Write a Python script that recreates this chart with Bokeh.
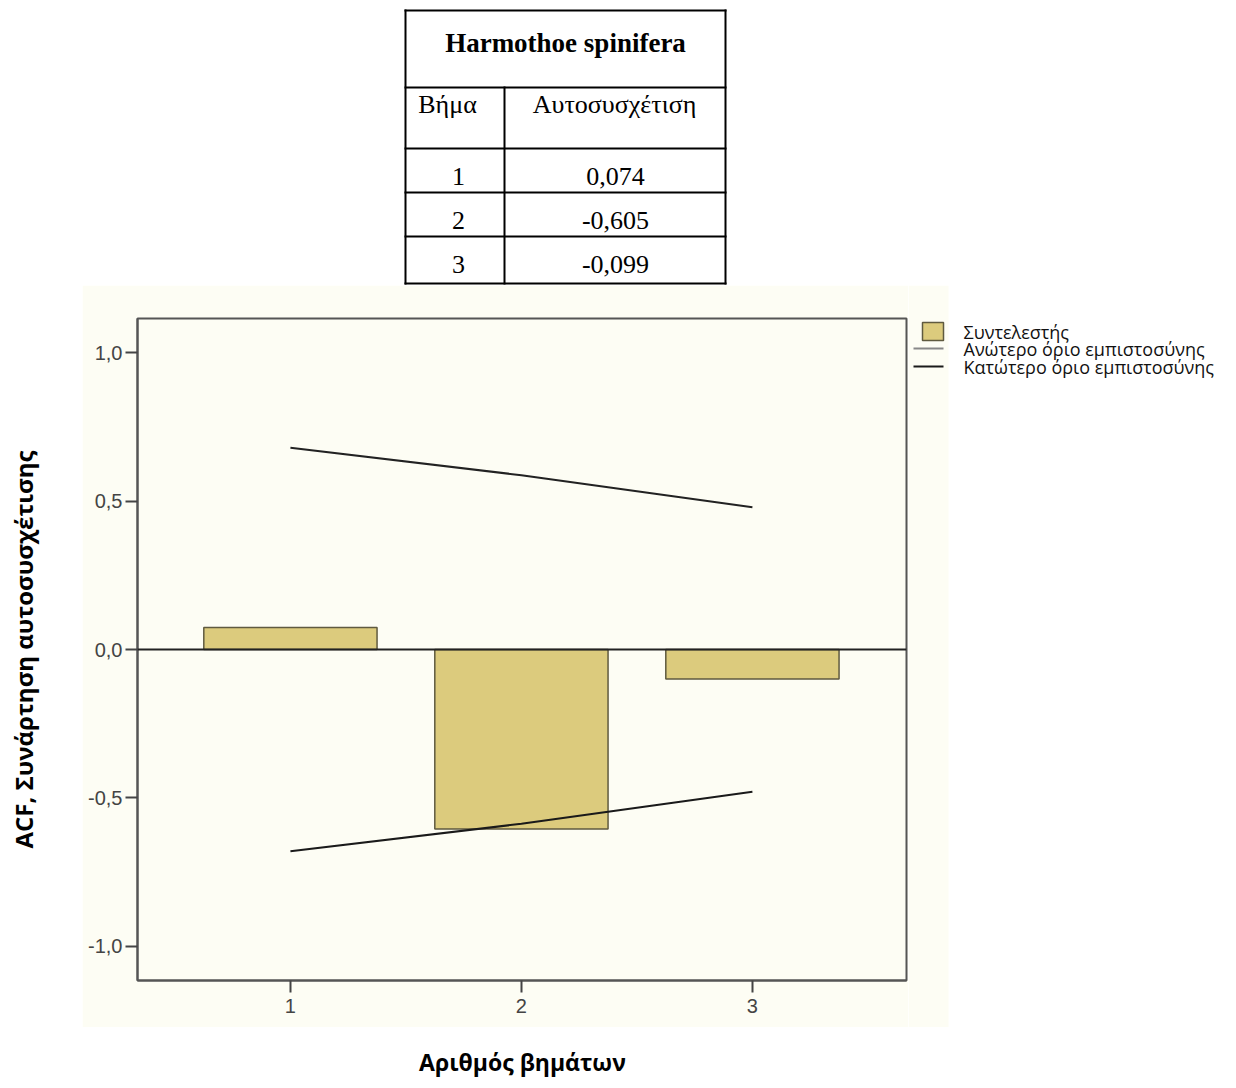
import math
from bokeh.plotting import figure
from bokeh.models import Range1d, FixedTicker, Span
from bokeh.layouts import column, row
from bokeh.embed import file_html
from bokeh.resources import INLINE
from bokeh.core.properties import value

# ---------------- data ----------------
species = "Harmothoe spinifera"
col_step = "Βήμα"
col_acf = "Αυτοσυσχέτιση"
lags = [1, 2, 3]
acf = [0.074, -0.605, -0.099]
upper_ci = [0.680, 0.587, 0.479]
lower_ci = [-0.680, -0.587, -0.479]
y_ticks = [-1.0, -0.5, 0.0, 0.5, 1.0]
y_tick_labels = ["-1,0", "-0,5", "0,0", "0,5", "1,0"]
x_tick_labels = ["1", "2", "3"]
legend_labels = ["Συντελεστής", "Ανώτερο όριο εμπιστοσύνης", "Κατώτερο όριο εμπιστοσύνης"]
x_label = "Αριθμός βημάτων"
y_label = "ACF, Συνάρτηση αυτοσυσχέτισης"

CREAM = "#fdfdf4"
BAR = "#dccb7d"
BAR_EDGE = "#5f5a3f"
UPPER_COLOR = "#888888"
LOWER_COLOR = "#1a1a1a"

W = 1232
TOP_H = 285      # table band
MID_H = 742      # chart band (cream image)
BOT_H = 57       # x-label band
LEFT_W = 82
CHART_W = 826
RIGHT_W = W - LEFT_W - CHART_W


def blank(width, height, x0, x1, y0, y1, bg="white"):
    f = figure(width=width, height=height, x_range=Range1d(x0, x1), y_range=Range1d(y1, y0),
               output_backend="svg", toolbar_location=None,
               x_axis_location=None, y_axis_location=None, min_border=0,
               outline_line_color=None, background_fill_color=bg, border_fill_color=bg)
    f.grid.visible = False
    f.frame_align = False
    return f


# ---------------- table ----------------
t = blank(W, TOP_H, 0, W, 0, TOP_H)
tx0, tx1, txm = 405, 725, 504
row_top = 148
row_h = 44
hy = [10, 87, row_top] + [row_top + row_h * (i + 1) for i in range(len(lags) - 1)] + [283]
t.segment(x0=[tx0] * len(hy), x1=[tx1] * len(hy), y0=hy, y1=hy,
          line_color="black", line_width=2, line_cap="square")
t.segment(x0=[tx0, tx1, txm], x1=[tx0, tx1, txm], y0=[10, 10, 87], y1=[283, 283, 283],
          line_color="black", line_width=2, line_cap="square")

t.text(x=[565], y=[42], text=[species], text_font=value("Liberation Serif"),
       text_font_style="bold", text_font_size="27px", text_align="center",
       text_baseline="middle", text_color="black")
t.text(x=[447, 614], y=[104, 104], text=[col_step, col_acf], text_font=value("Liberation Serif"),
       text_font_size="26px", text_align="center", text_baseline="middle", text_color="black")

row_y = [176 + row_h * i for i in range(len(lags))]
t.text(x=[458] * len(lags), y=row_y, text=[str(l) for l in lags],
       text_font=value("Liberation Serif"), text_font_size="26px",
       text_align="center", text_baseline="middle", text_color="black")
t.text(x=[615] * len(acf), y=row_y, text=[f"{v:.3f}".replace(".", ",") for v in acf],
       text_font=value("Liberation Serif"), text_font_size="26px",
       text_align="center", text_baseline="middle", text_color="black")

# ---------------- y label band ----------------
yl = blank(LEFT_W, MID_H, 0, LEFT_W, TOP_H, TOP_H + MID_H)
yl.text(x=[23], y=[649], text=[y_label], angle=math.pi / 2,
        text_font=value("Open Sans"), text_font_style="bold", text_font_size="24px",
        text_align="center", text_baseline="middle", text_color="black")

# ---------------- chart ----------------
p = figure(width=CHART_W, height=MID_H, x_range=Range1d(0.338, 3.667), y_range=Range1d(-1.115, 1.115),
           output_backend="svg", toolbar_location=None,
           min_border_left=55, min_border_right=2, min_border_top=33, min_border_bottom=47,
           background_fill_color=CREAM, border_fill_color=CREAM,
           outline_line_color="#555555", outline_line_width=2)
p.frame_align = False
p.grid.visible = False

for ax in (p.xaxis[0], p.yaxis[0]):
    ax.axis_line_color = "#555555"
    ax.axis_line_width = 2
    ax.major_tick_line_color = "#444444"
    ax.major_tick_line_width = 2
    ax.major_tick_out = 12
    ax.major_tick_in = 0
    ax.minor_tick_line_color = None
    ax.major_label_text_font = "Liberation Sans"
    ax.major_label_text_font_size = "20px"
    ax.major_label_text_color = "#444444"

p.yaxis.ticker = FixedTicker(ticks=y_ticks)
p.yaxis.major_label_overrides = dict(zip(y_ticks, y_tick_labels))
p.yaxis.major_label_standoff = 3
p.xaxis.ticker = FixedTicker(ticks=lags)
p.xaxis.major_label_overrides = dict(zip(lags, x_tick_labels))
p.xaxis.major_label_standoff = 6

p.vbar(x=lags, top=acf, bottom=0, width=0.75, fill_color=BAR,
       line_color=BAR_EDGE, line_width=1.5)
p.add_layout(Span(location=0, dimension="width", line_color="#222222", line_width=2))
p.line(lags, upper_ci, line_color="#222222", line_width=2)
p.line(lags, lower_ci, line_color=LOWER_COLOR, line_width=2)

# ---------------- legend band ----------------
x_lg0 = LEFT_W + CHART_W
lg = blank(RIGHT_W, MID_H, x_lg0, W, TOP_H, TOP_H + MID_H)
# continuation of the cream chart background up to its right edge
lg.quad(left=[x_lg0], right=[948], top=[TOP_H], bottom=[TOP_H + MID_H],
        fill_color=CREAM, line_color=None)
leg_y = [331, 348, 366]
lg.quad(left=[922], right=[943], top=[leg_y[0] - 9], bottom=[leg_y[0] + 9],
        fill_color=BAR, line_color=BAR_EDGE, line_width=1.5)
lg.segment(x0=[913, 913], x1=[943, 943], y0=leg_y[1:], y1=leg_y[1:],
           line_color=[UPPER_COLOR, LOWER_COLOR], line_width=2)
lg.text(x=[963] * len(legend_labels), y=leg_y, text=legend_labels,
        text_font=value("Open Sans"), text_font_size="18px",
        text_align="left", text_baseline="middle", text_color="#111111")

# ---------------- x label band ----------------
xl = blank(W, BOT_H, 0, W, TOP_H + MID_H, TOP_H + MID_H + BOT_H)
xl.text(x=[522], y=[1061], text=[x_label],
        text_font=value("Open Sans"), text_font_style="bold", text_font_size="23px",
        text_align="center", text_baseline="middle", text_color="black")

layout = column(t, row(yl, p, lg, spacing=0), xl, spacing=0)
open("out.html", "w").write(file_html(layout, INLINE))
